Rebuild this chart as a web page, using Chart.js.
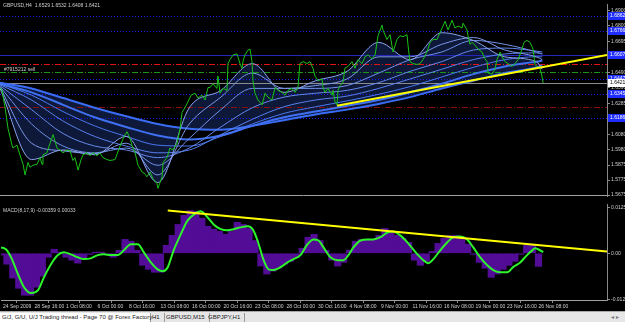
<!DOCTYPE html>
<html>
<head>
<meta charset="utf-8">
<script src="https://cdn.jsdelivr.net/npm/chart.js@4.4.0/dist/chart.umd.min.js"></script>
<style>
  html, body { margin: 0; padding: 0; background: #000; }
  body { width: 625px; height: 322px; position: relative; overflow: hidden; font-family: "Liberation Sans", Arial, sans-serif; }
  #main { position: absolute; left: 0; top: 0; }
  #macd { position: absolute; left: 0; top: 200px; }
  #tabs { position: absolute; left: 0; top: 311px; width: 625px; height: 11px; background: #e6e6e6; border-top: 1px solid #a8a8a8; }
  #tabs span { position: absolute; top: 1px; font-size: 6px; line-height: 9px; color: #222; white-space: nowrap; }
  #tabs .active { left: 0; width: 148px; padding-left: 2px; background: #fff; border-right: 1px solid #999; }
  #tabs .sep { border-right: 1px solid #999; padding-right: 4px; }
</style>
</head>
<body>
<canvas id="main" width="625" height="200"></canvas>
<canvas id="macd" width="625" height="112"></canvas>
<div id="tabs">
  <span class="active">G/J, G/U, U/J Trading thread - Page 70 @ Forex Factory -</span>
  <span class="sep" style="left:152px">H1</span>
  <span class="sep" style="left:166px">GBPUSD,M15</span>
  <span class="sep" style="left:208px">GBPJPY,H1</span>
  <span style="left:611px;color:#777">&#9666; &#9656;</span>
</div>
<script>
// GBPUSD H4 + MACD (x in H4 bars from 24 Sep 2009)
const tickBars = [0, 16, 32, 48, 64, 80, 96, 112, 128, 144, 160, 176, 192, 208, 224, 240, 256, 272];
const tickLabels = ["24 Sep 2009", "28 Sep 16:00", "1 Oct 08:00", "6 Oct 00:00", "8 Oct 16:00", "13 Oct 08:00",
  "16 Oct 00:00", "20 Oct 16:00", "23 Oct 08:00", "28 Oct 00:00", "30 Oct 16:00", "4 Nov 08:00",
  "9 Nov 00:00", "11 Nov 16:00", "16 Nov 08:00", "19 Nov 00:00", "23 Nov 16:00", "26 Nov 08:00"];
const priceTicks = [1.6900, 1.6800, 1.6695, 1.6590, 1.6490, 1.6390, 1.6285, 1.6180, 1.6080, 1.5980, 1.5875, 1.5775, 1.5675];
const macdTicks = [0.01259, 0, -0.01259];

const priceBars = [0,1,2.5,4.1,6.1,6.6,8.6,10.1,11.7,12.7,14.2,15.2,16.7,18.8,20.3,21.3,21.8,23.8,25.4,26.9,
  27.9,28.9,30.4,31.9,34,35.5,37,38,39.6,41.1,42.1,44.1,45.6,47.2,49.2,50.7,52.2,54.3,55.8,58.3,
  60.9,62.9,64.4,65.9,66.9,68.5,70,72,73.5,74.5,76.1,77.6,79.6,80.1,82.2,82.7,84.7,86.2,87.7,89.8,
  91.3,92.3,93.8,95.3,96.9,98.9,100.4,102.4,104,105.5,106.5,108,110,110.5,111.6,113.1,115.1,115.6,116.6,118.2,
  120.2,121.7,122.7,123.2,124.2,125.8,126.8,127.8,128.3,129.3,130.8,132.9,134.4,135.9,137.9,139.5,141,143,144.5,146,
  148.1,149.6,151.1,152.1,153.7,155.7,157.2,158.7,159.7,161.3,163.3,163.8,164.8,166.3,168.4,168.9,169.9,170.9,171.4,172.4,
  173.9,174.9,176.5,178.5,180,181.5,183.6,185.1,186.6,188.6,190.2,191.7,193.7,194.2,196.2,197.8,199.3,201.3,202.8,204.4,
  206.4,206.9,207.9,209.4,211.5,213,214.5,216.5,218.1,219.6,221.6,223.1,224.6,225.7,227.2,229.2,230.7,232.3,234.3,234.8,
  236.8,237.3,238.3,239.4,240.9,242.4,244.4,245.9,247,247.5,249.5,251,252,253.6,254.6,256.1,257.6,259.6,261.2,262.7,
  264.7,265.7,267.2,268.8,270.3,271.3,272.3,273.8,274.8,275.4];
const closes = [1.6390,1.6371,1.6262,1.6116,1.6007,1.5988,1.6007,1.5943,1.5880,1.5809,
  1.5892,1.5860,1.5873,1.5880,1.5924,1.5880,1.5943,1.5956,1.6020,1.6077,
  1.6033,1.5988,1.5975,1.5956,1.5975,1.5969,1.5905,1.5924,1.5841,1.5911,
  1.5943,1.5956,1.5937,1.5956,1.5937,1.5956,1.5924,1.5911,1.5905,1.5911,
  1.6001,1.6065,1.6096,1.6052,1.6007,1.5956,1.5873,1.5829,1.5816,1.5797,
  1.5829,1.5784,1.5752,1.5720,1.5797,1.5892,1.5924,1.5988,1.5975,1.6020,
  1.6116,1.6224,1.6256,1.6294,1.6339,1.6352,1.6320,1.6339,1.6307,1.6390,
  1.6390,1.6415,1.6384,1.6467,1.6352,1.6384,1.6371,1.6549,1.6575,1.6607,
  1.6613,1.6549,1.6518,1.6562,1.6607,1.6639,1.6645,1.6562,1.6435,1.6352,
  1.6307,1.6275,1.6352,1.6326,1.6307,1.6390,1.6371,1.6358,1.6339,1.6371,
  1.6384,1.6358,1.6390,1.6549,1.6562,1.6549,1.6562,1.6518,1.6467,1.6435,
  1.6447,1.6390,1.6358,1.6384,1.6339,1.6371,1.6294,1.6275,1.6371,1.6403,
  1.6422,1.6518,1.6530,1.6562,1.6518,1.6575,1.6549,1.6594,1.6607,1.6581,
  1.6607,1.6734,1.6805,1.6773,1.6709,1.6741,1.6626,1.6709,1.6734,1.6728,
  1.6741,1.6671,1.6562,1.6549,1.6543,1.6549,1.6575,1.6626,1.6690,1.6709,
  1.6709,1.6754,1.6798,1.6830,1.6773,1.6837,1.6786,1.6798,1.6786,1.6817,
  1.6773,1.6734,1.6677,1.6690,1.6671,1.6645,1.6626,1.6581,1.6562,1.6486,
  1.6479,1.6511,1.6575,1.6626,1.6594,1.6562,1.6549,1.6530,1.6549,1.6575,
  1.6645,1.6690,1.6703,1.6690,1.6645,1.6543,1.6530,1.6518,1.6467,1.6421];

// moving-average ribbon, fastest (1) to slowest (8)
const ribbonBars = [0, 16, 32, 48, 64, 80, 96, 112, 128, 144, 160, 176, 192, 208, 224, 240, 256, 272, 275];
const ribbon1 = [1.6384,1.5911,1.5975,1.5943,1.6065,1.5758,1.6256,1.6371,1.6549,1.6358,1.6435,1.6498,1.6690,1.6575,1.6754,1.6703,1.6594,1.6562,1.6511];
const ribbon2 = [1.6390,1.6020,1.5969,1.5950,1.6020,1.5809,1.6148,1.6326,1.6486,1.6384,1.6403,1.6447,1.6594,1.6594,1.6677,1.6722,1.6639,1.6594,1.6575];
const ribbon3 = [1.6396,1.6148,1.6001,1.5956,1.5988,1.5873,1.6052,1.6243,1.6384,1.6384,1.6384,1.6403,1.6486,1.6575,1.6626,1.6703,1.6677,1.6626,1.6613];
const ribbon4 = [1.6403,1.6243,1.6084,1.6001,1.5975,1.5924,1.5988,1.6128,1.6256,1.6326,1.6352,1.6371,1.6422,1.6498,1.6562,1.6639,1.6652,1.6632,1.6626];
const ribbon5 = [1.6409,1.6307,1.6167,1.6065,1.6001,1.5956,1.5975,1.6077,1.6179,1.6262,1.6307,1.6333,1.6384,1.6447,1.6511,1.6575,1.6613,1.6620,1.6613];
const ribbon6 = [1.6415,1.6339,1.6230,1.6135,1.6065,1.6007,1.6001,1.6065,1.6148,1.6218,1.6262,1.6301,1.6345,1.6396,1.6460,1.6524,1.6575,1.6594,1.6594];
const ribbon7 = [1.6415,1.6358,1.6275,1.6192,1.6128,1.6071,1.6045,1.6071,1.6135,1.6192,1.6230,1.6269,1.6307,1.6358,1.6415,1.6479,1.6530,1.6562,1.6569];
const ribbon8 = [1.6422,1.6384,1.6320,1.6256,1.6199,1.6148,1.6116,1.6109,1.6135,1.6173,1.6211,1.6243,1.6281,1.6326,1.6384,1.6435,1.6486,1.6524,1.6537];

const trendBars = [170.9, 307.8];
const trendPrices = [1.6269, 1.6607];

// horizontal objects on the price chart
const dotLevels = [1.6862, 1.6766, 1.6447, 1.6345, 1.6186];
const solidLevel = 1.6607;
const stopLevel = 1.6549;
const entryLevel = 1.6492;
const targetLevel = 1.6262;
const bid = 1.6421;
const boxLevels = [1.6862, 1.6766, 1.6607, 1.6447, 1.6345, 1.6186];

// MACD(8,17,9): histogram sampled every 3 bars, signal line
const macdHist = [-0.0005,-0.0030,-0.0068,-0.0096,-0.0115,-0.0115,-0.0093,-0.0063,-0.0011,0.0011,
  0.0003,-0.0011,-0.0019,-0.0027,-0.0014,-0.0003,0.0003,0.0003,-0.0003,-0.0011,
  0.0008,0.0038,0.0033,0.0008,-0.0033,-0.0044,-0.0052,-0.0052,0.0022,0.0049,
  0.0079,0.0104,0.0117,0.0115,0.0096,0.0074,0.0066,0.0060,0.0052,0.0060,
  0.0085,0.0079,0.0068,0.0035,-0.0035,-0.0057,-0.0049,-0.0041,-0.0030,-0.0022,
  -0.0011,0.0014,0.0044,0.0052,0.0035,0.0008,-0.0019,-0.0035,-0.0025,0.0008,
  0.0033,0.0038,0.0038,0.0038,0.0049,0.0068,0.0057,0.0049,0.0041,0.0030,
  -0.0019,-0.0033,-0.0022,0.0005,0.0027,0.0041,0.0049,0.0049,0.0041,0.0025,
  -0.0003,-0.0025,-0.0041,-0.0066,-0.0057,-0.0044,-0.0033,-0.0022,-0.0003,0.0022,
  0.0022,-0.0036];
const histBars = macdHist.map((_, i) => i * 3);
const signalBars = [0,2.5,5.1,8.6,11.7,15.2,18.8,21.8,25.4,28.9,31.9,35.5,39,42.1,45.6,49.2,52.2,55.8,59.3,62.4,
  65.9,69.5,72.5,76.1,79.6,82.2,84.7,87.7,91.3,94.8,97.9,101.4,105,108,111.6,115.1,118.2,121.7,125.3,127.8,
  130.3,133.4,135.9,138.4,142,145.5,148.6,152.1,155.7,158.7,161.3,163.8,167.3,170.9,173.9,176.5,179,182.6,186.1,189.1,
  192.7,196.2,199.3,202.8,206.4,211.5,214.5,217,219.6,223.1,226.7,229.7,233.3,236.8,239.9,243.4,247,250,253.6,257.1,
  260.1,263.7,267.2,269.8,271.3,272.8,275.4];
const signal = [0.0016,0.0011,-0.0011,-0.0057,-0.0093,-0.0109,-0.0101,-0.0066,-0.0030,-0.0005,
  0.0003,-0.0003,-0.0011,-0.0016,-0.0014,-0.0005,-0.0003,-0.0005,-0.0005,0.0008,
  0.0025,0.0025,0.0003,-0.0025,-0.0044,-0.0049,-0.0038,0.0008,0.0052,0.0090,
  0.0106,0.0115,0.0098,0.0079,0.0066,0.0063,0.0066,0.0071,0.0074,0.0066,
  0.0035,-0.0019,-0.0044,-0.0046,-0.0038,-0.0025,-0.0016,-0.0005,0.0025,0.0038,
  0.0035,0.0016,-0.0011,-0.0019,-0.0019,-0.0005,0.0016,0.0035,0.0038,0.0038,
  0.0044,0.0057,0.0060,0.0049,0.0030,-0.0003,-0.0019,-0.0027,-0.0016,0.0008,
  0.0030,0.0044,0.0046,0.0038,0.0016,-0.0011,-0.0033,-0.0046,-0.0052,-0.0052,
  -0.0038,-0.0025,-0.0005,0.0008,0.0014,0.0011,0.0003];
const macdTrendBars = [84.7, 307.8];
const macdTrendValues = [0.0117, 0.0005];

const xMin = 0, xMax = 307.8;

const pts = (xs, ys) => xs.map((x, i) => ({ x: x, y: ys[i] }));
const grey = "#8a8a8a";
const txt = "#cfcfcf";
const fontFam = "'Liberation Sans', Arial, sans-serif";

Chart.defaults.font.family = fontFam;
Chart.defaults.font.size = 5;
Chart.defaults.color = txt;

// lines, texts and price boxes drawn through the scales
const mainDeco = {
  id: "mainDeco",
  beforeDatasetsDraw(chart) {
    const { ctx, chartArea: a, scales: { y } } = chart;
    const hline = (p, color, dash) => {
      const py = Math.round(y.getPixelForValue(p)) + 0.5;
      ctx.strokeStyle = color;
      ctx.setLineDash(dash);
      ctx.beginPath();
      ctx.moveTo(a.left, py);
      ctx.lineTo(a.right, py);
      ctx.stroke();
    };
    ctx.save();
    ctx.lineWidth = 1;
    dotLevels.forEach(p => hline(p, "#1c1cf2", [1, 2]));
    hline(solidLevel, "#2626b8", []);
    hline(stopLevel, "#e01212", [6, 2, 1, 2]);
    hline(entryLevel, "#1a951a", [6, 2, 1, 2]);
    hline(targetLevel, "#8c0d0d", [6, 2, 1, 2]);
    hline(bid, "#8c8c8c", []);
    ctx.restore();
  },
  afterDraw(chart) {
    const { ctx, chartArea: a, scales: { y } } = chart;
    ctx.save();
    ctx.font = "5px " + fontFam;
    ctx.textBaseline = "middle";
    ctx.fillStyle = txt;
    ctx.fillText("GBPUSD,H4  1.6529 1.6532 1.6408 1.6421", 3, 6);
    ctx.fillText("#7915212 sell", 4, y.getPixelForValue(entryLevel) - 3);
    boxLevels.forEach(p => {
      const py = Math.round(y.getPixelForValue(p));
      ctx.fillStyle = "#1f2dff";
      ctx.fillRect(a.right + 1, py - 4, 18, 8);
      ctx.fillStyle = "#ffffff";
      ctx.fillText(p.toFixed(4), a.right + 3, py);
    });
    const by = Math.round(y.getPixelForValue(bid));
    ctx.fillStyle = "#ffffff";
    ctx.fillRect(a.right + 1, by - 4, 18, 8);
    ctx.fillStyle = "#000000";
    ctx.fillText(bid.toFixed(4), a.right + 3, by);
    ctx.strokeStyle = "#a0a0a0";
    ctx.beginPath();
    ctx.moveTo(0, a.bottom - 0.5);
    ctx.lineTo(a.right, a.bottom - 0.5);
    ctx.stroke();
    ctx.restore();
  }
};

const macdDeco = {
  id: "macdDeco",
  afterDraw(chart) {
    const { ctx, chartArea: a } = chart;
    ctx.save();
    ctx.font = "5px " + fontFam;
    ctx.textBaseline = "middle";
    ctx.fillStyle = txt;
    ctx.fillText("MACD(8,17,9) -0.00359 0.00033", 3, a.top + 7);
    ctx.restore();
  }
};

const ribbons = [ribbon1, ribbon2, ribbon3, ribbon4, ribbon5, ribbon6, ribbon7, ribbon8];
const ribbonColors = ["#8aa3ea", "#7d98e8", "#7090e8", "#6387ea", "#577fec", "#4a77ee", "#3f70f2", "#3a6cf6"];

new Chart(document.getElementById("main"), {
  type: "line",
  data: {
    datasets: [
      { data: pts(trendBars, trendPrices), borderColor: "#ffff00", borderWidth: 2, pointRadius: 0, order: 0 },
      { data: pts(priceBars, closes), borderColor: "#19c219", borderWidth: 1, pointRadius: 0, order: 1 },
      ...ribbons.map((r, i) => ({
        data: pts(ribbonBars, r),
        borderColor: ribbonColors[i],
        borderWidth: i >= 6 ? 2 : 1,
        pointRadius: 0,
        cubicInterpolationMode: "monotone",
        fill: i === 0 ? 9 : false,
        backgroundColor: "rgba(55, 95, 225, 0.26)",
        order: 2 + i
      }))
    ]
  },
  options: {
    responsive: false,
    animation: false,
    events: [],
    layout: { padding: 0 },
    plugins: { legend: { display: false }, tooltip: { enabled: false }, filler: { drawTime: "beforeDatasetsDraw" } },
    scales: {
      x: { type: "linear", min: xMin, max: xMax, display: false },
      y: {
        position: "right",
        min: 1.5669,
        max: 1.6945,
        afterBuildTicks: s => { s.ticks = priceTicks.map(v => ({ value: v })); },
        afterFit: s => { s.width = 18; },
        ticks: { autoSkip: false, padding: 1, color: txt, callback: v => v.toFixed(4) },
        grid: { drawOnChartArea: false, tickLength: 3, color: grey },
        border: { color: grey }
      }
    }
  },
  plugins: [mainDeco]
});

new Chart(document.getElementById("macd"), {
  type: "line",
  data: {
    datasets: [
      { type: "line", data: pts(macdTrendBars, macdTrendValues), borderColor: "#ffff00", borderWidth: 2, pointRadius: 0, order: 0 },
      { type: "line", data: pts(signalBars, signal), borderColor: "#2cf52c", borderWidth: 2, pointRadius: 0, cubicInterpolationMode: "monotone", order: 1 },
      { type: "bar", data: pts(histBars, macdHist), backgroundColor: "#520c96", barThickness: 6.5, order: 2 }
    ]
  },
  options: {
    responsive: false,
    animation: false,
    events: [],
    layout: { padding: { top: 1 } },
    plugins: { legend: { display: false }, tooltip: { enabled: false } },
    scales: {
      x: {
        type: "linear",
        min: xMin,
        max: xMax,
        offset: false,
        afterBuildTicks: s => { s.ticks = tickBars.map(v => ({ value: v })); },
        afterFit: s => { s.height = 12; },
        ticks: { autoSkip: false, maxRotation: 0, align: "start", labelOffset: 2, padding: 1, color: txt,
          callback: (v, i) => tickLabels[i] },
        grid: { drawOnChartArea: false, tickLength: 3, color: grey },
        border: { color: "#a0a0a0" }
      },
      y: {
        position: "right",
        min: -0.0128,
        max: 0.0135,
        afterBuildTicks: s => { s.ticks = macdTicks.map(v => ({ value: v })); },
        afterFit: s => { s.width = 18; },
        ticks: { autoSkip: false, padding: 1, color: txt, callback: v => (v === 0 ? "0.00" : v.toFixed(5)) },
        grid: { drawOnChartArea: false, tickLength: 3, color: grey },
        border: { color: grey }
      }
    }
  },
  plugins: [macdDeco]
});
</script>
</body>
</html>
